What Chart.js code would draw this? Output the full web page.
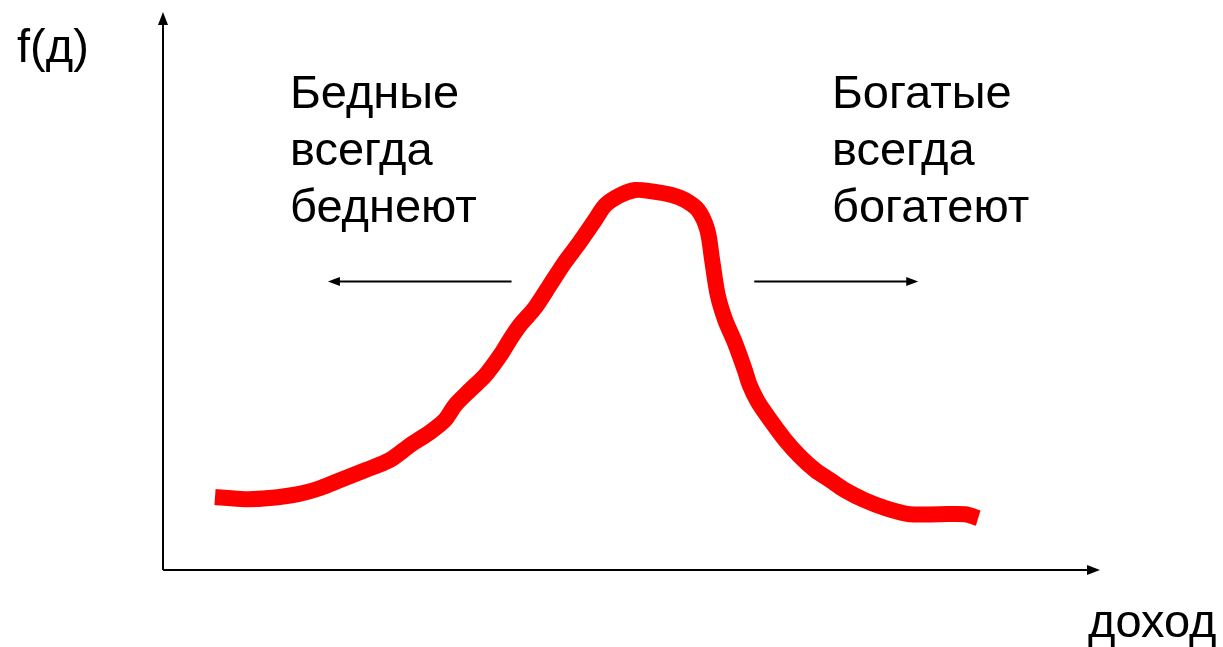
<!DOCTYPE html>
<html>
<head>
<meta charset="utf-8">
<script src="https://cdn.jsdelivr.net/npm/chart.js@4/dist/chart.umd.min.js"></script>
<style>
html,body{margin:0;padding:0;background:#fff;}
#wrap{width:1223px;height:647px;position:relative;}
</style>
</head>
<body>
<div id="wrap"><canvas id="c" width="1223" height="647"></canvas></div>
<script>
// income (x) and density f(д) (y), in axis units 0..100
const incomeX = [5.55, 8.75, 11.4, 14.4, 16.8, 18.9, 21.6, 24.2, 26.4, 28.5, 30.1, 31.2, 32.8, 34.4, 36.0, 37.0, 38.1, 39.7, 41.3, 42.9, 44.5, 46.1, 47.2, 48.8, 50.4, 52.0, 54.3, 55.7, 57.1, 58.1, 58.6, 59.2, 60.0, 61.0, 62.1, 62.6, 63.5, 64.8, 66.4, 68.0, 69.6, 71.2, 72.8, 74.9, 77.1, 79.7, 82.9, 85.6, 87.0];
const densityY = [13.1, 12.7, 12.9, 13.6, 14.7, 16.1, 17.9, 19.7, 22.4, 24.7, 26.9, 29.6, 32.3, 34.9, 38.5, 41.2, 43.9, 47.0, 51.1, 55.2, 58.8, 62.7, 65.4, 67.2, 68.1, 67.9, 67.2, 66.3, 64.5, 60.9, 55.6, 49.3, 44.8, 40.9, 35.8, 33.2, 30.1, 26.9, 23.3, 20.3, 17.9, 16.1, 14.3, 12.5, 11.1, 10.0, 10.0, 10.0, 9.3];
const yAxisLabel = "f(д)";
const xAxisLabel = "доход";
const leftNote = ["Бедные", "всегда", "беднеют"];
const rightNote = ["Богатые", "всегда", "богатеют"];
// arrows in axis units: [fromX, toX, atY]
const leftArrow = [37.2, 17.6, 51.8];
const rightArrow = [63.1, 80.6, 51.8];

const points = incomeX.map((x, i) => ({x: x, y: densityY[i]}));

function arrowHead(ctx, x, y, dx, dy, len, half) {
  const n = Math.hypot(dx, dy); const ux = dx / n, uy = dy / n;
  ctx.beginPath();
  ctx.moveTo(x, y);
  ctx.lineTo(x - ux * len - uy * half, y - uy * len + ux * half);
  ctx.lineTo(x - ux * len + uy * half, y - uy * len - ux * half);
  ctx.closePath();
  ctx.fill();
}

const decor = {
  id: 'decor',
  beforeDatasetsDraw(chart) {
    const ctx = chart.ctx, a = chart.chartArea;
    const xs = chart.scales.x, ys = chart.scales.y;
    ctx.save();
    ctx.strokeStyle = '#000'; ctx.fillStyle = '#000'; ctx.lineWidth = 2;
    const x0 = xs.getPixelForValue(0), y0 = ys.getPixelForValue(0);
    // axes
    ctx.beginPath();
    ctx.moveTo(x0, y0); ctx.lineTo(x0, a.top + 10);
    ctx.moveTo(x0, y0); ctx.lineTo(a.right - 10, y0);
    ctx.stroke();
    arrowHead(ctx, x0, a.top, 0, -1, 13, 5);
    arrowHead(ctx, a.right, y0, 1, 0, 13, 5);
    // notes arrows
    [leftArrow, rightArrow].forEach(ar => {
      const xa = xs.getPixelForValue(ar[0]), xb = xs.getPixelForValue(ar[1]), yy = Math.round(ys.getPixelForValue(ar[2])) + 0.5;
      const dir = Math.sign(xb - xa);
      ctx.beginPath(); ctx.moveTo(xa, yy); ctx.lineTo(xb - dir * 10, yy); ctx.stroke();
      arrowHead(ctx, xb, yy, dir, 0, 12, 4.5);
    });
    // texts
    ctx.font = '47px "Liberation Sans", Arial, sans-serif';
    ctx.textBaseline = 'alphabetic'; ctx.textAlign = 'left';
    ctx.fillText(yAxisLabel, a.left - 146, a.top + 50);
    ctx.fillText(xAxisLabel, a.right - 12, a.bottom + 67);
    leftNote.forEach((t, i) => ctx.fillText(t, a.left + 127, a.top + 96 + i * 57));
    rightNote.forEach((t, i) => ctx.fillText(t, a.left + 669, a.top + 96 + i * 57));
    ctx.restore();
  }
};

new Chart(document.getElementById('c'), {
  type: 'line',
  data: {
    datasets: [{
      data: points,
      borderColor: '#ff0000',
      borderWidth: 16,
      borderCapStyle: 'butt',
      borderJoinStyle: 'round',
      pointRadius: 0,
      tension: 0.3,
      fill: false,
      clip: false
    }]
  },
  options: {
    responsive: false,
    animation: false,
    layout: {padding: {left: 163, top: 12, right: 123, bottom: 77}},
    plugins: {legend: {display: false}, tooltip: {enabled: false}},
    scales: {
      x: {type: 'linear', min: 0, max: 100, display: false},
      y: {type: 'linear', min: 0, max: 100, display: false}
    }
  },
  plugins: [decor]
});
</script>
</body>
</html>
